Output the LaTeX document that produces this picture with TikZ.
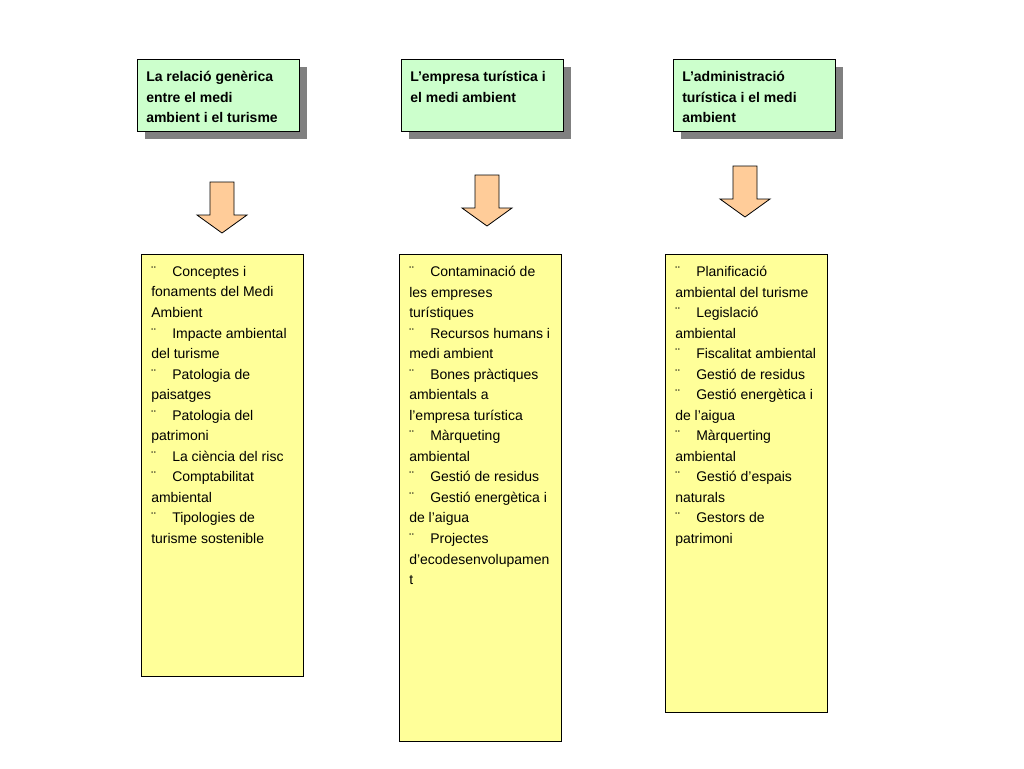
\documentclass[tikz,border=0pt]{standalone}
\usepackage{fontspec}
\setmainfont{Liberation Sans}
\usetikzlibrary{shadows}

\definecolor{hdrgreen}{RGB}{204,255,204}
\definecolor{listyellow}{RGB}{255,255,153}
\definecolor{arroworange}{RGB}{255,204,153}
\definecolor{shadowgray}{RGB}{128,128,128}

\newcommand{\itm}{\makebox[15.75pt][l]{¨}}

\begin{document}
\begin{tikzpicture}[x=0.75pt,y=-0.75pt,
    hdrbox/.style={draw, fill=hdrgreen, line width=0.6pt, anchor=north west,
      minimum width=121.5pt, minimum height=54pt, inner sep=0pt,
      drop shadow={shadow xshift=6pt, shadow yshift=-6pt, fill=shadowgray, opacity=1}},
    hdrtext/.style={anchor=north west, inner sep=0pt, align=left,
      font=\bfseries\fontsize{10.5pt}{15.4pt}\selectfont},
    listbox/.style={draw, fill=listyellow, line width=0.6pt, anchor=north west,
      minimum width=121.5pt, inner sep=0pt},
    listtext/.style={anchor=north west, inner sep=0pt, align=left,
      font=\fontsize{10.5pt}{15.4pt}\selectfont},
    downarrow/.style={draw, fill=arroworange, line width=0.6pt, line join=miter}]

  \useasboundingbox (0,0) rectangle (1024,768);

  % headers
  \node[hdrbox] (hdr1) at (137,59) {};
  \node[hdrbox] (hdr2) at (401,59) {};
  \node[hdrbox] (hdr3) at (673,59) {};

  \node[hdrtext] (hdr1txt) at (146,71) {La relació genèrica\\entre el medi\\ambient i el turisme};
  \node[hdrtext] (hdr2txt) at (410,71) {L’empresa turística i\\el medi ambient};
  \node[hdrtext] (hdr3txt) at (682,71) {L’administració\\turística i el medi\\ambient};

  % block arrows
  \foreach \name/\cx/\top in {arr1/222/182, arr2/487/175, arr3/745/166}{
    \coordinate (\name) at (\cx,\top);
    \draw[downarrow] (\name) ++(-12,0) -- ++(24,0) -- ++(0,33) -- ++(13,0)
      -- ++(-25,18) -- ++(-25,-18) -- ++(13,0) -- cycle;
  }

  % lists
  \node[listbox, minimum height=316.5pt] (list1) at (141,254) {};
  \node[listbox, minimum height=365.25pt] (list2) at (399,254) {};
  \node[listbox, minimum height=343.5pt] (list3) at (665,254) {};

  \node[listtext] (list1txt) at (151,266) {\itm Conceptes i\\fonaments del Medi\\Ambient\\
    \itm Impacte ambiental\\del turisme\\\itm Patologia de\\paisatges\\
    \itm Patologia del\\patrimoni\\\itm La ciència del risc\\
    \itm Comptabilitat\\ambiental\\\itm Tipologies de\\turisme sostenible};

  \node[listtext] (list2txt) at (409,266) {\itm Contaminació de\\les empreses\\turístiques\\
    \itm Recursos humans i\\medi ambient\\\itm Bones pràctiques\\ambientals a\\
    l’empresa turística\\\itm Màrqueting\\ambiental\\\itm Gestió de residus\\
    \itm Gestió energètica i\\de l’aigua\\\itm Projectes\\d’ecodesenvolupamen\\t};

  \node[listtext] (list3txt) at (675,266) {\itm Planificació\\ambiental del turisme\\
    \itm Legislació\\ambiental\\\itm Fiscalitat ambiental\\\itm Gestió de residus\\
    \itm Gestió energètica i\\de l’aigua\\\itm Màrquerting\\ambiental\\
    \itm Gestió d’espais\\naturals\\\itm Gestors de\\patrimoni};

\end{tikzpicture}
\end{document}
